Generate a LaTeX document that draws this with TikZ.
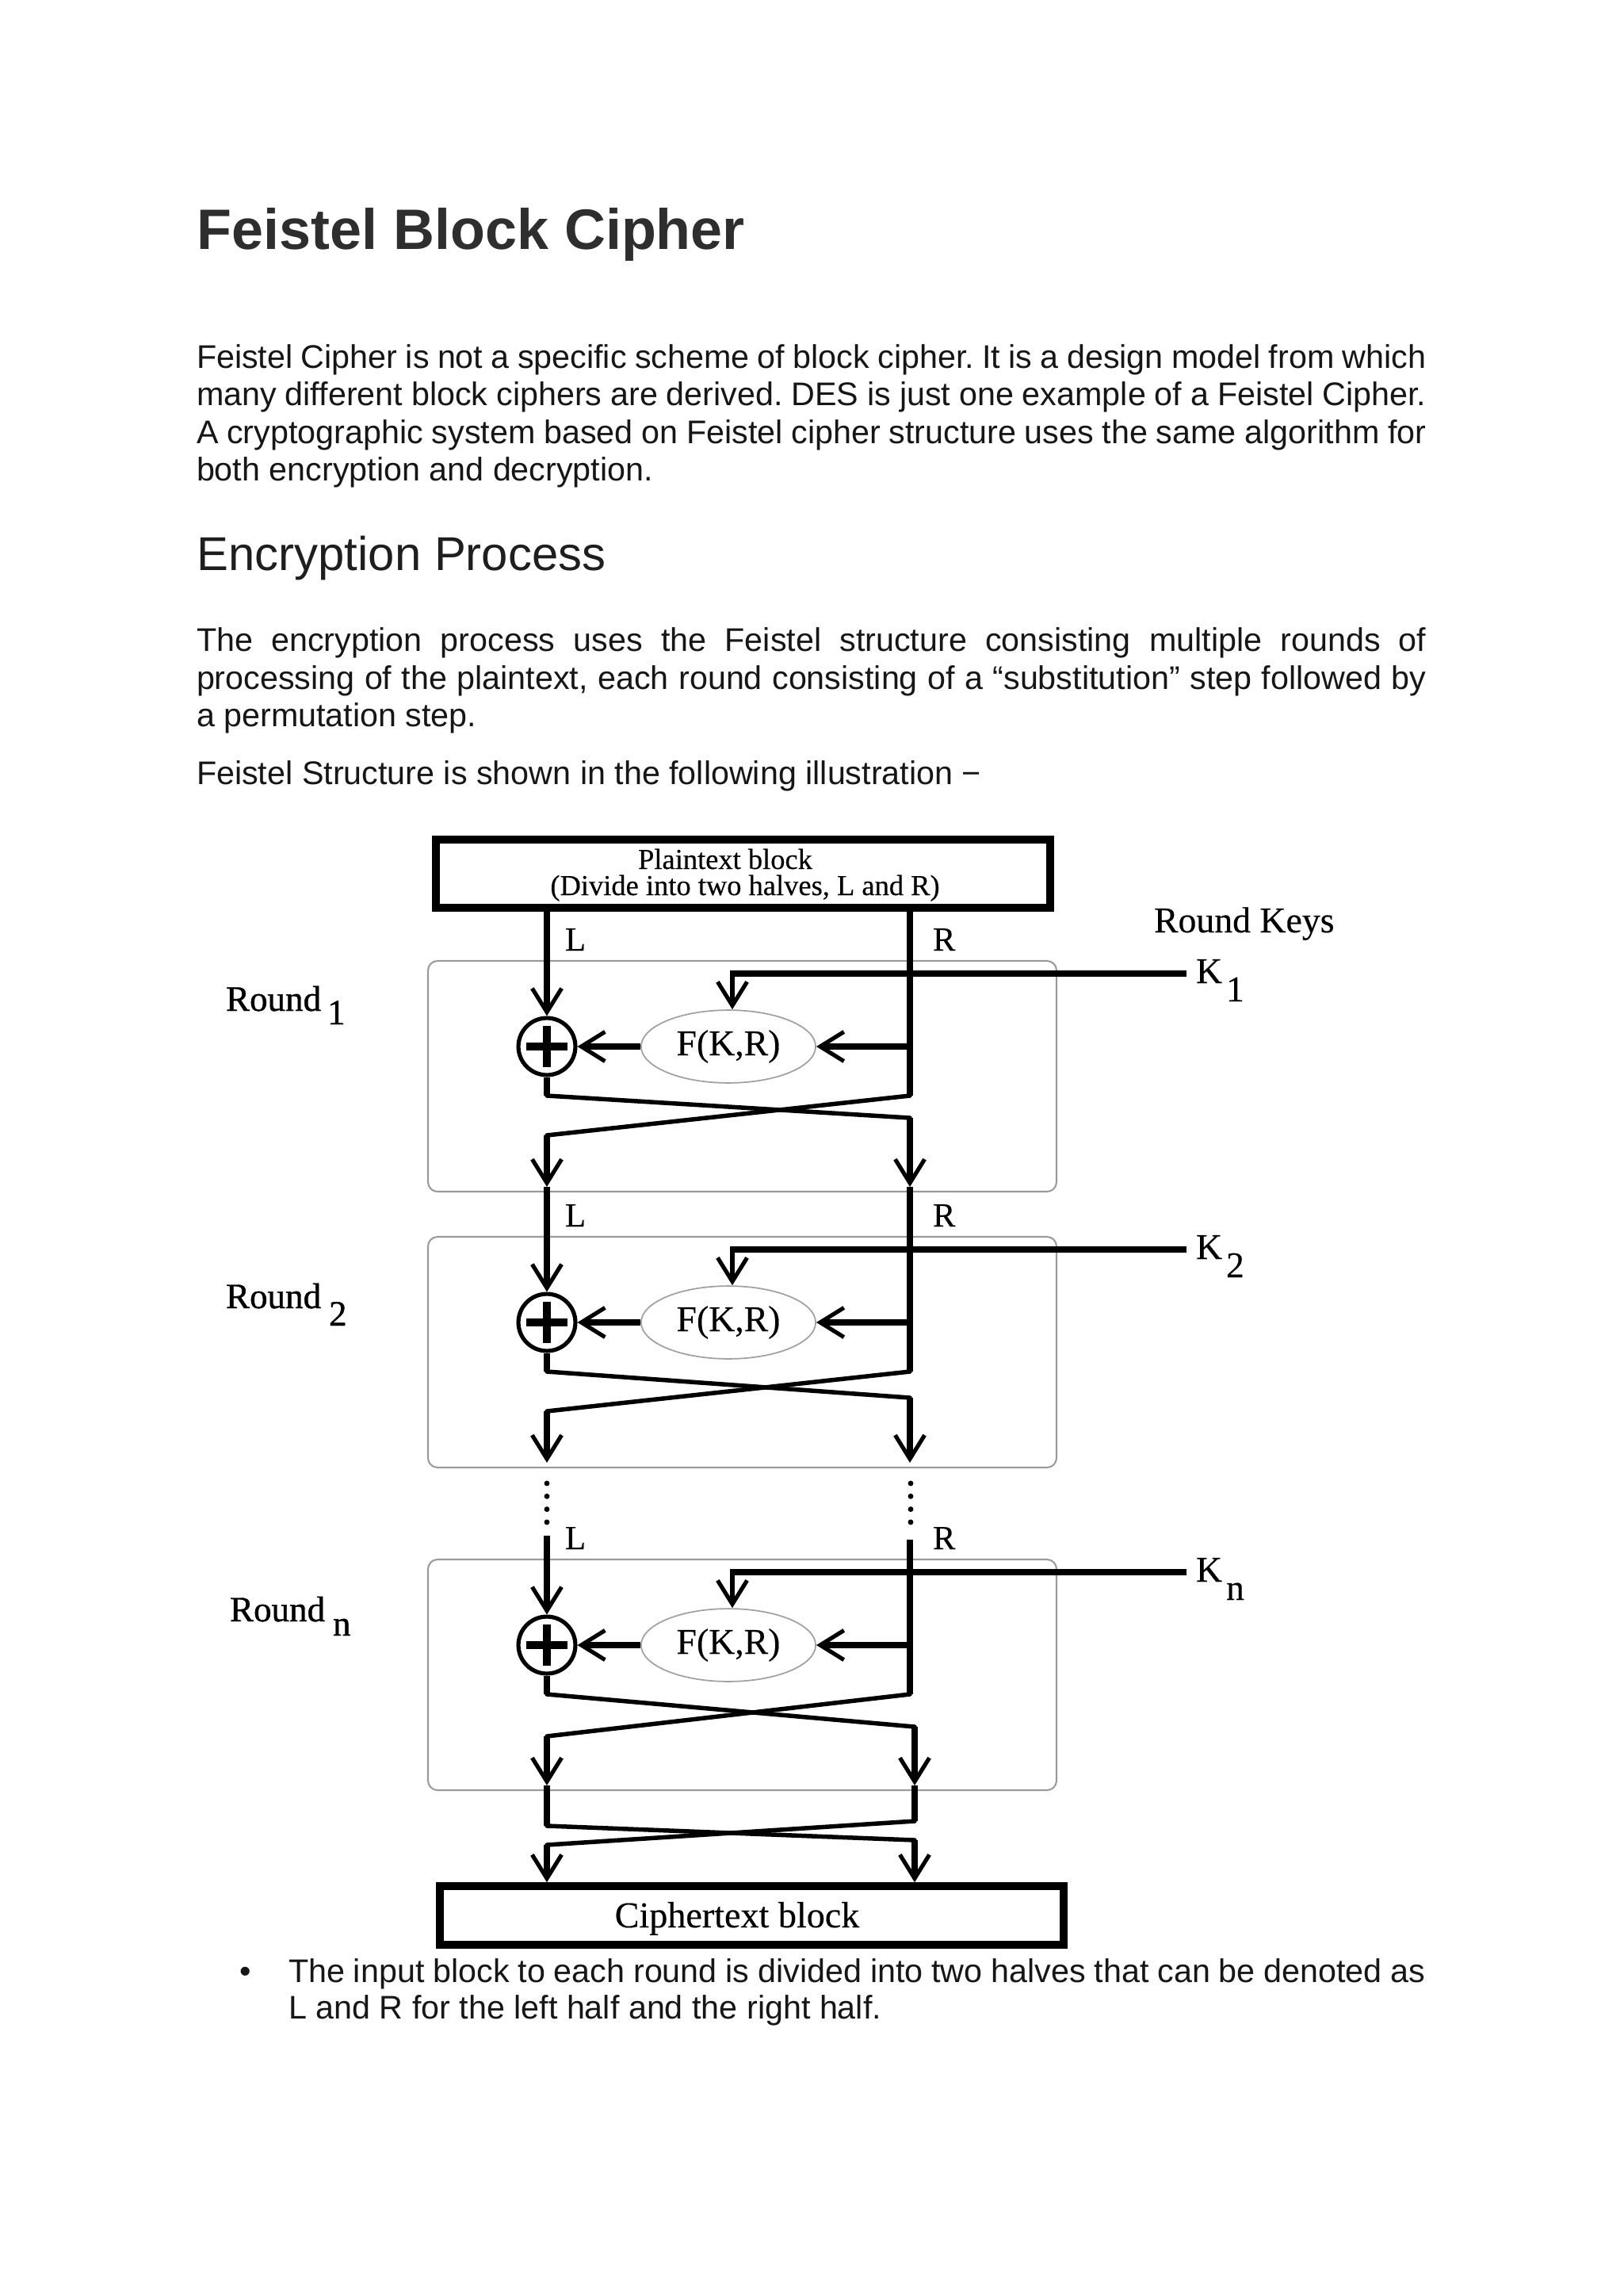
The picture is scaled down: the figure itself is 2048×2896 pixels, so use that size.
\documentclass[tikz,border=0pt]{standalone}
\usepackage{fontspec}
\setmainfont{Liberation Sans}
\newfontfamily\dfont[FakeBold=0.3]{Liberation Serif}
\newfontfamily\dfontb[FakeBold=0.9]{Liberation Serif}
\usetikzlibrary{arrows.meta,shapes.geometric}
\definecolor{titlegray}{HTML}{2E2E2E}
\definecolor{headk}{HTML}{1E1E1E}
\definecolor{bodyk}{HTML}{161616}
\definecolor{boxgray}{HTML}{9A9A9A}
\definecolor{ellgray}{HTML}{A0A0A0}
\frenchspacing
\begin{document}
\begin{tikzpicture}[x=0.29068pt,y=-0.29068pt,
  vb/.tip={Straight Barb[length=8.7pt,width=10.8pt,line width=1.5pt]},
  txt/.style={anchor=base west,inner sep=0pt,outer sep=0pt,text=bodyk,font=\fontsize{12}{13.9}\selectfont},
  lab/.style={anchor=base west,inner sep=0pt,outer sep=0pt,font=\dfont\fontsize{12.4}{14}\selectfont},
  biglab/.style={anchor=base west,inner sep=0pt,outer sep=0pt,font=\dfont\fontsize{13.3}{15}\selectfont},
  roundlab/.style={anchor=base west,inner sep=0pt,outer sep=0pt,font=\dfontb\fontsize{13.1}{15}\selectfont},
  vline/.style={line width=2.6pt},
  xline/.style={line width=1.6pt,line cap=round},
  keyline/.style={line width=2.2pt},
  kdown/.style={line width=1.5pt},
  farrow/.style={line width=2.1pt},
  roundbox/.style={draw=boxgray,line width=0.6pt,rounded corners=3.5pt},
  xorc/.style={circle,draw,line width=1.5pt,minimum size=20.9pt,inner sep=0pt},
  plusbar/.style={line width=2.7pt},
  fell/.style={ellipse,draw=ellgray,line width=0.5pt,minimum width=64pt,minimum height=26.7pt,inner sep=0pt,font=\dfont\fontsize{13.3}{15}\selectfont},
  bigbox/.style={rectangle,draw,line width=2.8pt,inner sep=0pt},
  dotline/.style={line width=2pt,line cap=round,dash pattern=on 0pt off 4.74pt}
]
\fill[white] (0,0) rectangle (2048,2896);
\useasboundingbox (0,0) rectangle (2048,2896);

% ---------- text ----------
\node[anchor=base west,inner sep=0pt,text=titlegray,font=\fontsize{20.9}{25}\selectfont\bfseries] (title) at (248,315) {Feistel Block Cipher};

\node[txt] (p1a) at (248,465) {\makebox[451pt][s]{Feistel Cipher is not a specific scheme of block cipher. It is a design model from which}};
\node[txt] (p1b) at (248,512) {\makebox[451pt][s]{many different block ciphers are derived. DES is just one example of a Feistel Cipher.}};
\node[txt] (p1c) at (248,560) {\makebox[451pt][s]{A cryptographic system based on Feistel cipher structure uses the same algorithm for}};
\node[txt] (p1d) at (248,607) {both encryption and decryption.};

\node[anchor=base west,inner sep=0pt,text=headk,font=\fontsize{17.4}{21}\selectfont] (head) at (248,720) {Encryption Process};

\node[txt] (p2a) at (248,821) {\makebox[451pt][s]{The encryption process uses the Feistel structure consisting multiple rounds of}};
\node[txt] (p2b) at (248,869) {\makebox[451pt][s]{processing of the plaintext, each round consisting of a “substitution” step followed by}};
\node[txt] (p2c) at (248,916) {a permutation step.};

\node[txt] (p3) at (248,989) {Feistel Structure is shown in the following illustration −};

\node[anchor=base,inner sep=0pt,text=bodyk,font=\fontsize{12}{13.9}\selectfont] (bul) at (310,2500) {•};
\node[txt] (b1a) at (364,2500) {\makebox[417pt][s]{The input block to each round is divided into two halves that can be denoted as}};
\node[txt] (b1b) at (364,2546) {L and R for the left half and the right half.};

% ---------- diagram ----------
\node[bigbox,minimum width=225.3pt,minimum height=25pt] (pt) at (937.5,1102) {};
\node[anchor=base,inner sep=0pt,font=\dfont\fontsize{10.6}{12}\selectfont] (ptt1) at (915,1096) {Plaintext block};
\node[anchor=base,inner sep=0pt,font=\dfont\fontsize{10.6}{12}\selectfont] (ptt2) at (940,1129) {(Divide into two halves, L and R)};

\node[biglab] (rk) at (1456,1176) {Round Keys};

\coordinate (lin1) at (690,1146);
\coordinate (rin1) at (1148,1146);
\coordinate (lin2) at (690,1497);
\coordinate (rin2) at (1148,1497);
\coordinate (linn) at (690,1937);
\coordinate (rinn) at (1148,1942);

\foreach \id/\cy/\rb/\lb/\xrr/\rx/\ry/\sx/\sy in
  {1/1320/90/112/1148/285/1275/413/1292,
   2/1668/95/112/1148/285/1650/415/1672,
   n/2075/103/115/1154/290/2045/420/2063}
{
  \draw[roundbox] (540,{\cy-108}) rectangle (1333,{\cy+183});
  \node[roundlab] (rl\id) at (\rx,\ry) {Round};
  \node[roundlab] (rs\id) at (\sx,\sy) {\id};
  \node[lab] (ll\id) at (713,{\cy-121}) {L};
  \node[lab] (lr\id) at (1177,{\cy-121}) {R};
  \node[xorc] (x\id) at (690,\cy) {};
  \draw[plusbar] ([xshift=-7.6pt]x\id.center) -- ([xshift=7.6pt]x\id.center);
  \draw[plusbar] ([yshift=7.6pt]x\id.center) -- ([yshift=-7.6pt]x\id.center);
  \node[fell] (f\id) at (919,\cy) {F(K,R)};
  \coordinate (ke\id) at (1497,{\cy-92});
  \coordinate (kc\id) at (924,{\cy-92});
  \draw[keyline] (ke\id) -- ([xshift=-0.75pt]kc\id);
  \draw[kdown,-{vb}] (kc\id) -- (kc\id |- f\id.north);
  \node[biglab] (kl\id) at (1509,{\cy-80}) {K};
  \node[biglab] (ks\id) at (1547,{\cy-57}) {\id};
  \coordinate (rf\id) at (1148,\cy);
  \coordinate (lt\id) at (690,{\cy+62});
  \coordinate (rt\id) at (1148,{\cy+62});
  \coordinate (rbx\id) at (\xrr,{\cy+\rb});
  \coordinate (lbx\id) at (690,{\cy+\lb});
  \coordinate (la\id) at (690,{\cy+177});
  \coordinate (ra\id) at (\xrr,{\cy+177});
  \draw[vline,-{vb}] (lin\id) -- (x\id.north);
  \draw[vline] (rin\id) -- (rt\id);
  \draw[farrow,-{vb}] (rf\id) -- (f\id.east);
  \draw[farrow,-{vb}] (f\id.west) -- (x\id.east);
  \draw[vline] (x\id.south) -- (lt\id);
  \draw[xline] (lt\id) -- (rbx\id);
  \draw[xline] (rt\id) -- (lbx\id);
  \draw[vline,-{vb}] (rbx\id) -- (ra\id);
  \draw[vline,-{vb}] (lbx\id) -- (la\id);
}

% dotted continuation
\coordinate (dl1) at (690,1871);
\coordinate (dl2) at (690,1922);
\coordinate (dr1) at (1149,1871);
\coordinate (dr2) at (1149,1922);
\draw[dotline] (dl1) -- (dl2);
\draw[dotline] (dr1) -- (dr2);

% final swap and ciphertext
\node[bigbox,minimum width=228.8pt,minimum height=21.5pt] (ct) at (948.5,2416) {};
\node[anchor=base,inner sep=0pt,font=\dfont\fontsize{13.4}{15}\selectfont] (ctt) at (930,2431) {Ciphertext block};
\coordinate (bl1) at (690,2303);
\coordinate (br1) at (1154,2297);
\coordinate (bl2) at (690,2327);
\coordinate (br2) at (1154,2321);
\draw[vline] (lan) -- (bl1);
\draw[vline] (ran) -- (br1);
\draw[xline] (bl1) -- (br2);
\draw[xline] (br1) -- (bl2);
\draw[vline,-{vb}] (bl2) -- (ct.north -| bl2);
\draw[vline,-{vb}] (br2) -- (ct.north -| br2);
\end{tikzpicture}
\end{document}
